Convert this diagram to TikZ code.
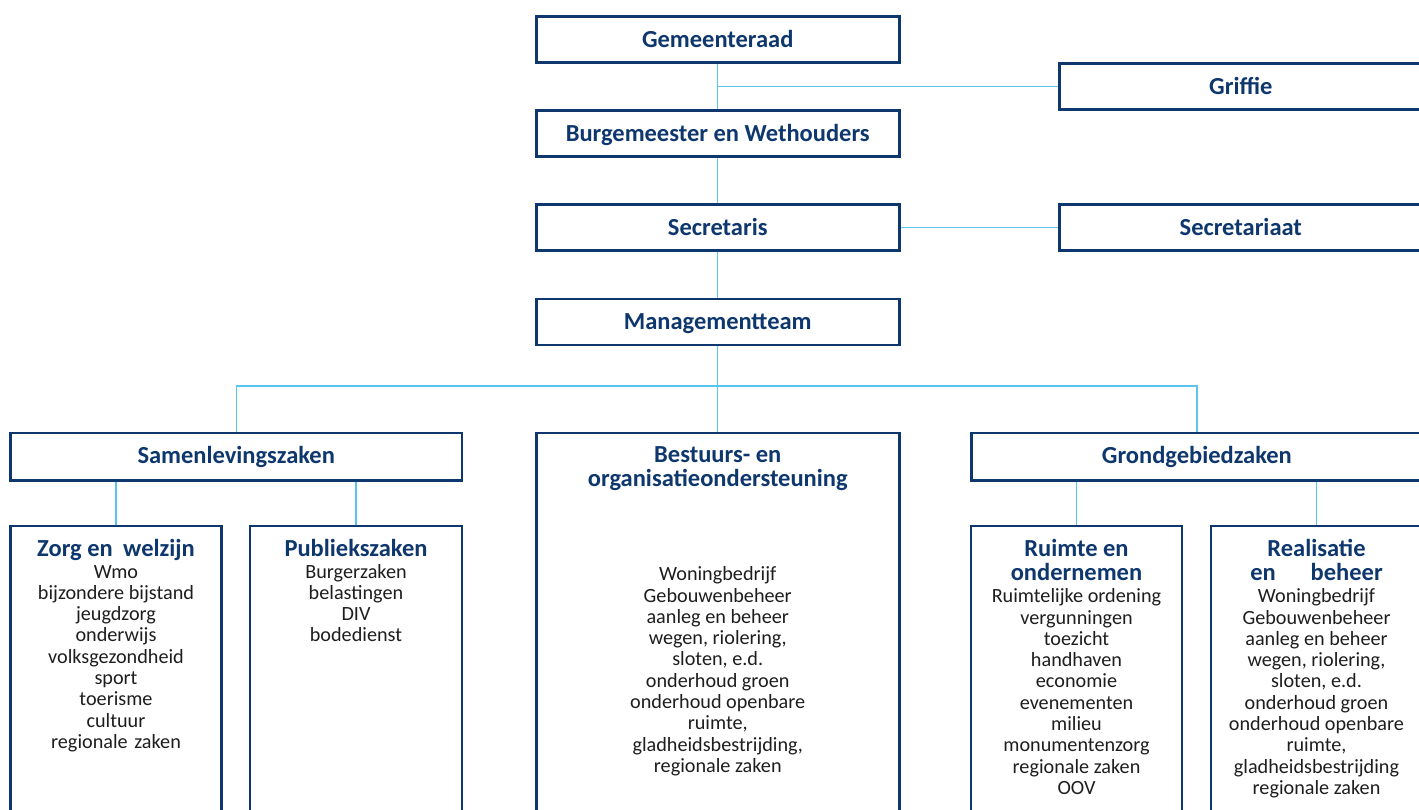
\documentclass[tikz,border=0pt]{standalone}
\usepackage{fontspec}
\setmainfont{Carlito}
\usetikzlibrary{backgrounds}
\definecolor{navy}{RGB}{14,55,110}
\definecolor{sky}{RGB}{90,195,238}
\definecolor{bodytxt}{RGB}{30,30,30}
\begin{document}
\begin{tikzpicture}[x=1pt,y=-1pt,
 box/.style={draw=navy,line width=2.5pt,fill=white,inner sep=0pt},
 hbox/.style={box,font=\fontsize{24.5}{26}\selectfont\bfseries,text=navy,text height=18pt,text depth=5pt},
 tbox/.style={hbox,text height=20.6pt,text depth=5pt,minimum width=363pt,minimum height=46pt},
 link/.style={draw=sky,line width=1.3pt},
 ttl/.style={font=\fontsize{24.5}{24.5}\selectfont\bfseries,text=navy,align=center,inner sep=0pt,anchor=base},
 txt/.style={font=\fontsize{20.2}{21.3}\selectfont,text=bodytxt,align=center,inner sep=0pt,anchor=base}]
\useasboundingbox (0,0) rectangle (1419,809);
\clip (0,0) rectangle (1419,809);
% top column
\node[tbox] (gem) at (717.75,39.3) {Gemeenteraad};
\node[tbox] (bw) at (717.75,133.5) {Burgemeester en Wethouders};
\node[tbox] (sec) at (717.75,227.5) {Secretaris};
\node[tbox] (mt) at (717.75,322) {Managementteam};
\node[tbox] (grif) at (1240.8,86.3) {Griffie};
\node[tbox] (secr) at (1240.8,227.5) {Secretariaat};
% level 2
\node[hbox,minimum width=451.3pt,minimum height=47.5pt] (samen) at (236.2,456.7) {Samenlevingszaken};
\node[hbox,minimum width=451.3pt,minimum height=47.5pt] (grond) at (1196.9,456.7) {Grondgebiedzaken};
\node[box,minimum width=363pt,minimum height=407pt] (best) at (717.75,636.5) {};
% level 3
\node[box,minimum width=211pt,minimum height=314pt] (zorg) at (116,683.2) {};
\node[box,minimum width=211.6pt,minimum height=314pt] (publ) at (356,683.2) {};
\node[box,minimum width=210.6pt,minimum height=314pt] (ruim) at (1076.5,683.2) {};
\node[box,minimum width=210.6pt,minimum height=314pt] (real) at (1316.5,683.2) {};
% texts (anchor base = baseline of the last line)
\node[ttl] (bestT) at (717.75,486.7) {Bestuurs- en\\organisatieondersteuning};
\node[txt] (bestB) at (717.75,772.4) {Woningbedrijf\\Gebouwenbeheer\\aanleg en beheer\\wegen, riolering,\\sloten, e.d.\\onderhoud groen\\onderhoud openbare\\ruimte,\\gladheidsbestrijding,\\regionale zaken};
\node[ttl] (zorgT) at (116,556) {Zorg en\hspace{0.2em} welzijn};
\node[txt] (zorgB) at (116,748.4) {Wmo\\bijzondere bijstand\\jeugdzorg\\onderwijs\\volksgezondheid\\sport\\toerisme\\cultuur\\regionale\hspace{0.1em} zaken};
\node[ttl] (publT) at (356,556) {Publiekszaken};
\node[txt] (publB) at (356,641.9) {Burgerzaken\\belastingen\\DIV\\bodedienst};
\node[ttl] (ruimT) at (1076.5,580.7) {Ruimte en\\ondernemen};
\node[txt] (ruimB) at (1076.5,794.4) {Ruimtelijke ordening\\vergunningen\\toezicht\\handhaven\\economie\\evenementen\\milieu\\monumentenzorg\\regionale zaken\\OOV};
\node[ttl] (realT) at (1316.5,580.7) {Realisatie\\en\hspace{1.2em} beheer};
\node[txt] (realB) at (1316.5,794.4) {Woningbedrijf\\Gebouwenbeheer\\aanleg en beheer\\wegen, riolering,\\sloten, e.d.\\onderhoud groen\\onderhoud openbare\\ruimte,\\gladheidsbestrijding\\regionale zaken};
\coordinate (split) at (717.75,386);
\begin{scope}[on background layer]
\draw[link] (gem.south) -- (bw.north);
\draw[link] (gem.south |- grif.west) -- (grif.west);
\draw[link] (bw.south) -- (sec.north);
\draw[link] (sec.east) -- (secr.west);
\draw[link] (sec.south) -- (mt.north);
\draw[link] (mt.south) -- (split);
\draw[link] (samen.north) |- (split) -| (grond.north);
\draw[link] (split) -- (best.north);
\draw[link] (samen.south -| zorg.north) -- (zorg.north);
\draw[link] (samen.south -| publ.north) -- (publ.north);
\draw[link] (grond.south -| ruim.north) -- (ruim.north);
\draw[link] (grond.south -| real.north) -- (real.north);
\end{scope}
\end{tikzpicture}
\end{document}
